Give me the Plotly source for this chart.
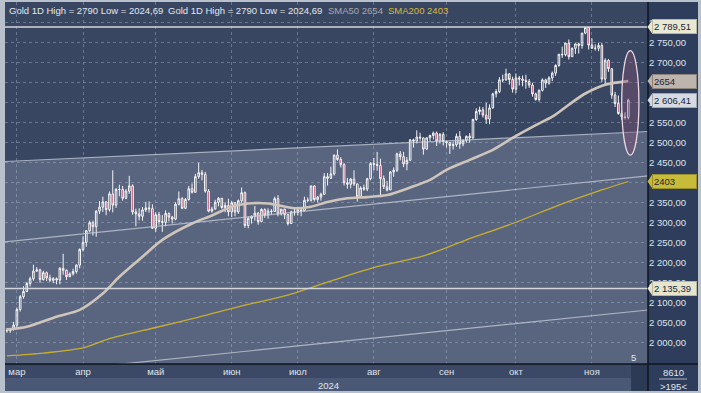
import pandas as pd
import plotly.graph_objects as go

# ---------------- data ----------------
trade_dates = [d.strftime("%Y-%m-%d") for d in pd.bdate_range("2024-02-27", "2024-11-18")
               if d.strftime("%Y-%m-%d") != "2024-03-29"]

open_ = [
    2031, 2030, 2034,
    2044, 2083, 2115, 2128, 2148, 2160, 2179, 2182, 2158, 2175, 2162, 2156, 2160, 2157, 2186, 2181, 2165, 2172, 2178, 2194,
    2233, 2251, 2280, 2300, 2290, 2329, 2339, 2352, 2333, 2372, 2344, 2383, 2383, 2361, 2379, 2392, 2327, 2322, 2316, 2332, 2337, 2335,
    2286, 2320, 2303, 2301, 2323, 2314, 2309, 2346, 2360, 2336, 2358, 2385, 2376, 2415, 2425, 2421, 2379, 2329, 2334, 2351, 2361, 2338, 2343,
    2327, 2350, 2327, 2355, 2375, 2293, 2311, 2316, 2324, 2303, 2333, 2319, 2329, 2328, 2360, 2322, 2334, 2320, 2298, 2327,
    2326, 2332, 2330, 2356, 2356, 2392, 2358, 2364, 2371, 2415, 2411, 2422, 2469, 2458, 2445, 2400, 2396, 2409, 2397, 2365, 2387, 2384, 2410,
    2448, 2446, 2443, 2410, 2390, 2382, 2427, 2431, 2472, 2465, 2447, 2456, 2507, 2504, 2514, 2512, 2484, 2512, 2518, 2524, 2504, 2521,
    2503, 2500, 2493, 2495, 2516, 2497, 2506, 2516, 2512, 2558, 2578, 2582, 2569, 2559, 2587, 2622, 2628, 2657, 2657, 2672, 2658,
    2634, 2662, 2659, 2656, 2653, 2644, 2622, 2608, 2631, 2657, 2649, 2662, 2674, 2693, 2721, 2720, 2749, 2715, 2736, 2747, 2743, 2774, 2788,
    2744, 2736, 2736, 2743, 2659, 2706, 2685, 2619, 2598, 2573, 2565, 2563,
]
high = [
    2037, 2037, 2052,
    2088, 2119, 2141, 2152, 2165, 2195, 2189, 2185, 2180, 2178, 2170, 2164, 2163, 2189, 2222, 2183, 2176, 2185, 2196, 2236,
    2266, 2282, 2305, 2305, 2331, 2354, 2365, 2354, 2378, 2431, 2387, 2395, 2392, 2384, 2417, 2396, 2335, 2336, 2339, 2352, 2353, 2346,
    2326, 2327, 2319, 2331, 2326, 2317, 2351, 2378, 2364, 2362, 2392, 2398, 2422, 2450, 2432, 2427, 2384, 2340, 2357, 2364, 2362, 2351, 2360,
    2354, 2351, 2358, 2388, 2378, 2316, 2318, 2342, 2327, 2336, 2336, 2336, 2334, 2365, 2369, 2334, 2335, 2321, 2330, 2339,
    2339, 2335, 2365, 2363, 2392, 2393, 2367, 2375, 2424, 2424, 2440, 2470, 2483, 2464, 2449, 2412, 2412, 2431, 2398, 2391, 2395, 2412, 2451,
    2462, 2477, 2460, 2418, 2404, 2429, 2438, 2475, 2479, 2477, 2464, 2509, 2510, 2531, 2525, 2513, 2513, 2520, 2528, 2528, 2524, 2526,
    2503, 2502, 2503, 2523, 2529, 2508, 2518, 2524, 2560, 2586, 2590, 2589, 2600, 2596, 2625, 2634, 2664, 2670, 2685, 2674, 2665,
    2673, 2667, 2668, 2670, 2659, 2650, 2625, 2633, 2661, 2660, 2666, 2678, 2696, 2722, 2740, 2749, 2758, 2738, 2748, 2750, 2774, 2789.51, 2790,
    2761, 2746, 2750, 2749, 2711, 2709, 2685, 2627, 2618, 2581, 2576, 2610,
]
low = [
    2025, 2024.69, 2030,
    2038, 2078, 2110, 2126, 2141, 2155, 2177, 2150, 2155, 2154, 2152, 2149, 2146, 2146, 2170, 2157, 2164, 2168, 2173, 2186,
    2228, 2240, 2276, 2268, 2265, 2322, 2327, 2319, 2328, 2326, 2337, 2366, 2355, 2359, 2372, 2320, 2291, 2306, 2305, 2327, 2325, 2285,
    2277, 2295, 2277, 2291, 2303, 2298, 2306, 2343, 2334, 2334, 2355, 2373, 2375, 2410, 2406, 2375, 2326, 2325, 2333, 2341, 2335, 2326, 2316,
    2314, 2316, 2322, 2350, 2287, 2286, 2298, 2305, 2295, 2301, 2312, 2310, 2320, 2327, 2316, 2318, 2309, 2293, 2297, 2318,
    2318, 2316, 2329, 2352, 2353, 2353, 2351, 2355, 2370, 2393, 2410, 2418, 2455, 2438, 2393, 2385, 2386, 2392, 2353, 2364, 2380, 2379, 2406,
    2431, 2430, 2364, 2384, 2378, 2381, 2415, 2427, 2456, 2439, 2431, 2455, 2488, 2498, 2505, 2470, 2483, 2504, 2508, 2492, 2498, 2493,
    2488, 2472, 2483, 2490, 2485, 2491, 2500, 2500, 2510, 2555, 2570, 2563, 2547, 2546, 2585, 2613, 2624, 2651, 2655, 2645, 2625,
    2624, 2643, 2641, 2635, 2637, 2615, 2605, 2603, 2628, 2637, 2645, 2654, 2667, 2690, 2712, 2716, 2708, 2715, 2722, 2723, 2735, 2771, 2733,
    2735, 2730, 2729, 2652, 2645, 2677, 2610, 2589, 2570, 2557, 2558, 2558,
]
close = [
    2030, 2034, 2044,
    2083, 2115, 2128, 2148, 2160, 2179, 2182, 2158, 2175, 2162, 2156, 2160, 2157, 2186, 2181, 2165, 2172, 2178, 2194, 2233,
    2251, 2280, 2300, 2290, 2329, 2339, 2352, 2333, 2372, 2344, 2383, 2383, 2361, 2379, 2392, 2327, 2322, 2316, 2332, 2337, 2335, 2286,
    2320, 2303, 2301, 2323, 2314, 2309, 2346, 2360, 2336, 2358, 2385, 2376, 2415, 2425, 2421, 2379, 2329, 2334, 2351, 2361, 2338, 2343, 2327,
    2350, 2327, 2355, 2375, 2293, 2311, 2316, 2324, 2303, 2333, 2319, 2329, 2328, 2360, 2322, 2334, 2320, 2298, 2327, 2326,
    2332, 2330, 2356, 2356, 2392, 2358, 2364, 2371, 2415, 2411, 2422, 2469, 2458, 2445, 2400, 2396, 2409, 2397, 2365, 2387, 2384, 2410, 2448,
    2446, 2443, 2410, 2390, 2382, 2427, 2431, 2472, 2465, 2447, 2456, 2507, 2504, 2514, 2512, 2484, 2512, 2518, 2524, 2504, 2521, 2503,
    2500, 2493, 2495, 2516, 2497, 2506, 2516, 2512, 2558, 2578, 2582, 2569, 2559, 2587, 2622, 2628, 2657, 2657, 2672, 2658, 2634,
    2662, 2659, 2656, 2653, 2644, 2622, 2608, 2631, 2657, 2649, 2662, 2674, 2693, 2721, 2720, 2749, 2715, 2736, 2747, 2743, 2774, 2788, 2744,
    2736, 2736, 2743, 2659, 2706, 2685, 2619, 2598, 2573, 2565, 2563, 2606.41,
]

sma50_dates = ["2024-02-27", "2024-03-06", "2024-03-19", "2024-03-28", "2024-04-09", "2024-04-16", "2024-04-25",
               "2024-05-03", "2024-05-16", "2024-05-24", "2024-06-03", "2024-06-10", "2024-06-18", "2024-06-28",
               "2024-07-05", "2024-07-12", "2024-07-22", "2024-07-30", "2024-08-07", "2024-08-16", "2024-08-26",
               "2024-09-02", "2024-09-11", "2024-09-20", "2024-09-30", "2024-10-09", "2024-10-16", "2024-10-23",
               "2024-10-30", "2024-11-07", "2024-11-18"]
sma50_vals = [2033, 2040, 2065, 2082, 2123, 2165, 2215,
              2257, 2298, 2318, 2340, 2348, 2348, 2336,
              2340, 2352, 2361, 2364, 2369, 2388, 2407,
              2432, 2457, 2482, 2512, 2544, 2565, 2595,
              2623, 2645, 2654]

sma200_dates = ["2024-02-27", "2024-03-13", "2024-04-01", "2024-04-11", "2024-05-01", "2024-05-20", "2024-06-07",
                "2024-06-26", "2024-07-16", "2024-08-02", "2024-08-22", "2024-09-10", "2024-09-30", "2024-10-18",
                "2024-11-06", "2024-11-18"]
sma200_vals = [1967, 1974, 1987, 2010, 2038, 2064, 2094,
               2119, 2157, 2190, 2217, 2257, 2298, 2344,
               2382, 2403]

month_ticks = ["2024-03-01", "2024-04-01", "2024-05-01", "2024-06-03", "2024-07-01",
               "2024-08-01", "2024-09-02", "2024-10-01", "2024-11-01"]
month_labels = ["мар", "апр", "май", "июн", "июл", "авг", "сен", "окт", "ноя"]
price_ticks = list(range(2000, 2801, 50))
hidden_price_ticks = [2650, 2400]   # fully covered by the SMA tags in the reference

level_high = 2789.51
level_low = 2135.39
sma50_last = 2654
sma200_last = 2403
last_price = 2606.41

channel_top = [2453, 2528]
channel_mid = [2252, 2417]
channel_bot = [1916.75, 2081.75]

# ---------------- figure ----------------
W, H = 701, 393
ML, MR, MT, MB = 5, 53, 2, 29
PW, PH = W - ML - MR, H - MT - MB


def xp(px):
    return (px - ML) / PW


def yp(py):
    return (H - MB - py) / PH


def fmt(v):
    return f"{v:,.2f}".replace(",", " ").replace(".", ",")


YMIN, YMAX = 1946.75, 2851.75

fig = go.Figure()
fig.add_trace(go.Scatter(x=sma200_dates, y=sma200_vals, mode="lines",
                         line=dict(color="#c9ae2e", width=1.3, shape="spline", smoothing=0.8),
                         hoverinfo="skip", showlegend=False))
fig.add_trace(go.Scatter(x=sma50_dates, y=sma50_vals, mode="lines",
                         line=dict(color="#cfc5ba", width=2.6, shape="spline", smoothing=0.8),
                         hoverinfo="skip", showlegend=False))
fig.add_trace(go.Candlestick(
    x=trade_dates, open=open_, high=high, low=low, close=close,
    increasing=dict(line=dict(color="#f4f4f4", width=1), fillcolor="rgba(0,0,0,0)"),
    decreasing=dict(line=dict(color="#f4f4f4", width=1), fillcolor="#b8355a"),
    whiskerwidth=0, showlegend=False, hoverinfo="skip"))

shapes = []
# channel fill (below gridlines)
shapes.append(dict(type="path", xref="paper", yref="y", layer="below",
                   path=f"M 0,{channel_top[0]} L 1,{channel_top[1]} L 1,{YMIN} L 0,{YMIN} Z",
                   fillcolor="rgba(165,175,195,0.30)", line=dict(width=0)))
for ch in (channel_top, channel_mid, channel_bot):
    shapes.append(dict(type="line", xref="paper", yref="y", x0=0, x1=1, y0=ch[0], y1=ch[1],
                       line=dict(color="rgba(200,205,215,0.75)", width=1.2)))
for lv in (level_high, level_low):
    shapes.append(dict(type="line", xref="paper", yref="y", x0=0, x1=1, y0=lv, y1=lv,
                       line=dict(color="#d4d6da", width=1.5)))
# ellipse
shapes.append(dict(type="circle", xref="x", yref="y", x0="2024-11-14", x1="2024-11-21 05:00",
                   y0=2469, y1=2730, fillcolor="rgba(130,80,115,0.40)",
                   line=dict(color="#ecd6e0", width=1.3)))
# right axis panel and bottom panels
shapes.append(dict(type="rect", xref="paper", yref="paper", x0=1, x1=xp(698), y0=yp(391), y1=1,
                   fillcolor="#2e3d5b", line=dict(width=0), layer="below"))
shapes.append(dict(type="rect", xref="paper", yref="paper", x0=0, x1=1, y0=yp(378), y1=0,
                   fillcolor="#3b4966", line=dict(width=0), layer="below"))
shapes.append(dict(type="rect", xref="paper", yref="paper", x0=0, x1=1, y0=yp(391), y1=yp(378),
                   fillcolor="#4a5875", line=dict(width=0), layer="below"))
shapes.append(dict(type="rect", xref="paper", yref="paper", x0=xp(631), x1=1, y0=yp(391), y1=0,
                   fillcolor="#2c3a55", line=dict(width=0), layer="below"))
# separators
shapes.append(dict(type="line", xref="paper", yref="paper", x0=0, x1=xp(698), y0=0, y1=0,
                   line=dict(color="#10141c", width=1.5)))
shapes.append(dict(type="line", xref="paper", yref="paper", x0=1, x1=1, y0=yp(391), y1=1,
                   line=dict(color="#10141c", width=1.5)))
shapes.append(dict(type="line", xref="paper", yref="paper", x0=xp(659), x1=xp(687), y0=yp(379), y1=yp(379),
                   line=dict(color="#aab4c4", width=1)))

annotations = []
# price tags
tags = [(level_high, fmt(level_high), "#e9e9d3", "#b8b8a0"),
        (sma50_last, str(sma50_last), "#bdb5ad", "#8d857d"),
        (last_price, fmt(last_price), "#d6dbe3", "#a0a8b4"),
        (sma200_last, str(sma200_last), "#c8bb3a", "#98902a"),
        (level_low, fmt(level_low), "#e6e6ce", "#b8b8a0")]
for v, txt, bg, bc in tags:
    annotations.append(dict(xref="paper", yref="y", x=xp(651.5), y=v, xanchor="left", yanchor="middle",
                            text=txt, showarrow=False, align="left", width=41, height=11,
                            bgcolor=bg, bordercolor=bc, borderwidth=1, borderpad=1,
                            font=dict(size=9.5, color="#1b2435")))
    shapes.append(dict(type="path", xref="paper", yref="y",
                       path=f"M {xp(647.5)},{v} L {xp(652)},{v + 16} L {xp(652)},{v - 16} Z",
                       fillcolor=bg, line=dict(width=0)))

# legend line
legend_items = [(7, "Gold 1D High = 2790 Low = 2024,69", "#e4e6ea"),
                (166, "Gold 1D High = 2790 Low = 2024,69", "#e4e6ea"),
                (326, f"SMA50 {sma50_last}", "#a9a9a9"),
                (386, f"SMA200 {sma200_last}", "#d4bb40")]
for px, txt, col in legend_items:
    annotations.append(dict(xref="paper", yref="paper", x=xp(px), y=yp(10), xanchor="left", yanchor="middle",
                            text=txt, showarrow=False, font=dict(size=9.5, color=col)))

annotations.append(dict(xref="paper", yref="paper", x=xp(328), y=yp(385), text="2024", showarrow=False,
                        xanchor="center", yanchor="middle", font=dict(size=9.5, color="#e2e6ee")))
annotations.append(dict(xref="paper", yref="paper", x=xp(633), y=yp(357), text="5", showarrow=False,
                        xanchor="center", yanchor="middle", font=dict(size=9.5, color="#e2e6ee")))
annotations.append(dict(xref="paper", yref="paper", x=xp(673), y=yp(372), text="8610", showarrow=False,
                        xanchor="center", yanchor="middle", font=dict(size=9.5, color="#e2e6ee")))
annotations.append(dict(xref="paper", yref="paper", x=xp(673), y=yp(386), text="&gt;195&lt;", showarrow=False,
                        xanchor="center", yanchor="middle", font=dict(size=9.5, color="#e2e6ee")))

price_ticktext = ["" if v in hidden_price_ticks else fmt(v) for v in price_ticks]

grid_col = "rgba(165,180,205,0.45)"
fig.update_layout(
    width=W, height=H, margin=dict(l=ML, r=MR, t=MT, b=MB, pad=0, autoexpand=False),
    paper_bgcolor="#b8c0cc", plot_bgcolor="#384662",
    separators=", ", showlegend=False, hovermode=False,
    font=dict(family="Liberation Sans, Arial, sans-serif", size=9.5, color="#dfe4ec"),
    shapes=shapes, annotations=annotations,
)
fig.update_xaxes(type="date", range=["2024-02-26 09:36", "2024-11-25 23:00"],
                 rangebreaks=[dict(bounds=["sat", "mon"]), dict(values=["2024-03-29"])],
                 tickmode="array", tickvals=month_ticks, ticktext=month_labels,
                 showgrid=True, gridcolor=grid_col, griddash="dot", gridwidth=1,
                 ticks="", showline=False, zeroline=False, rangeslider=dict(visible=False),
                 automargin=False, tickfont=dict(size=9.5, color="#dfe4ec"))
fig.update_yaxes(side="right", range=[YMIN, YMAX], tickmode="array", tickvals=price_ticks,
                 ticktext=price_ticktext, showgrid=True, gridcolor=grid_col, griddash="dot", gridwidth=1,
                 ticks="", zeroline=False, showline=False, automargin=False,
                 tickfont=dict(size=9.5, color="#dfe4ec"))

fig.write_html("out.html", config={"displayModeBar": False},
               post_script="document.body.style.margin='0';document.body.style.overflow='hidden';")
